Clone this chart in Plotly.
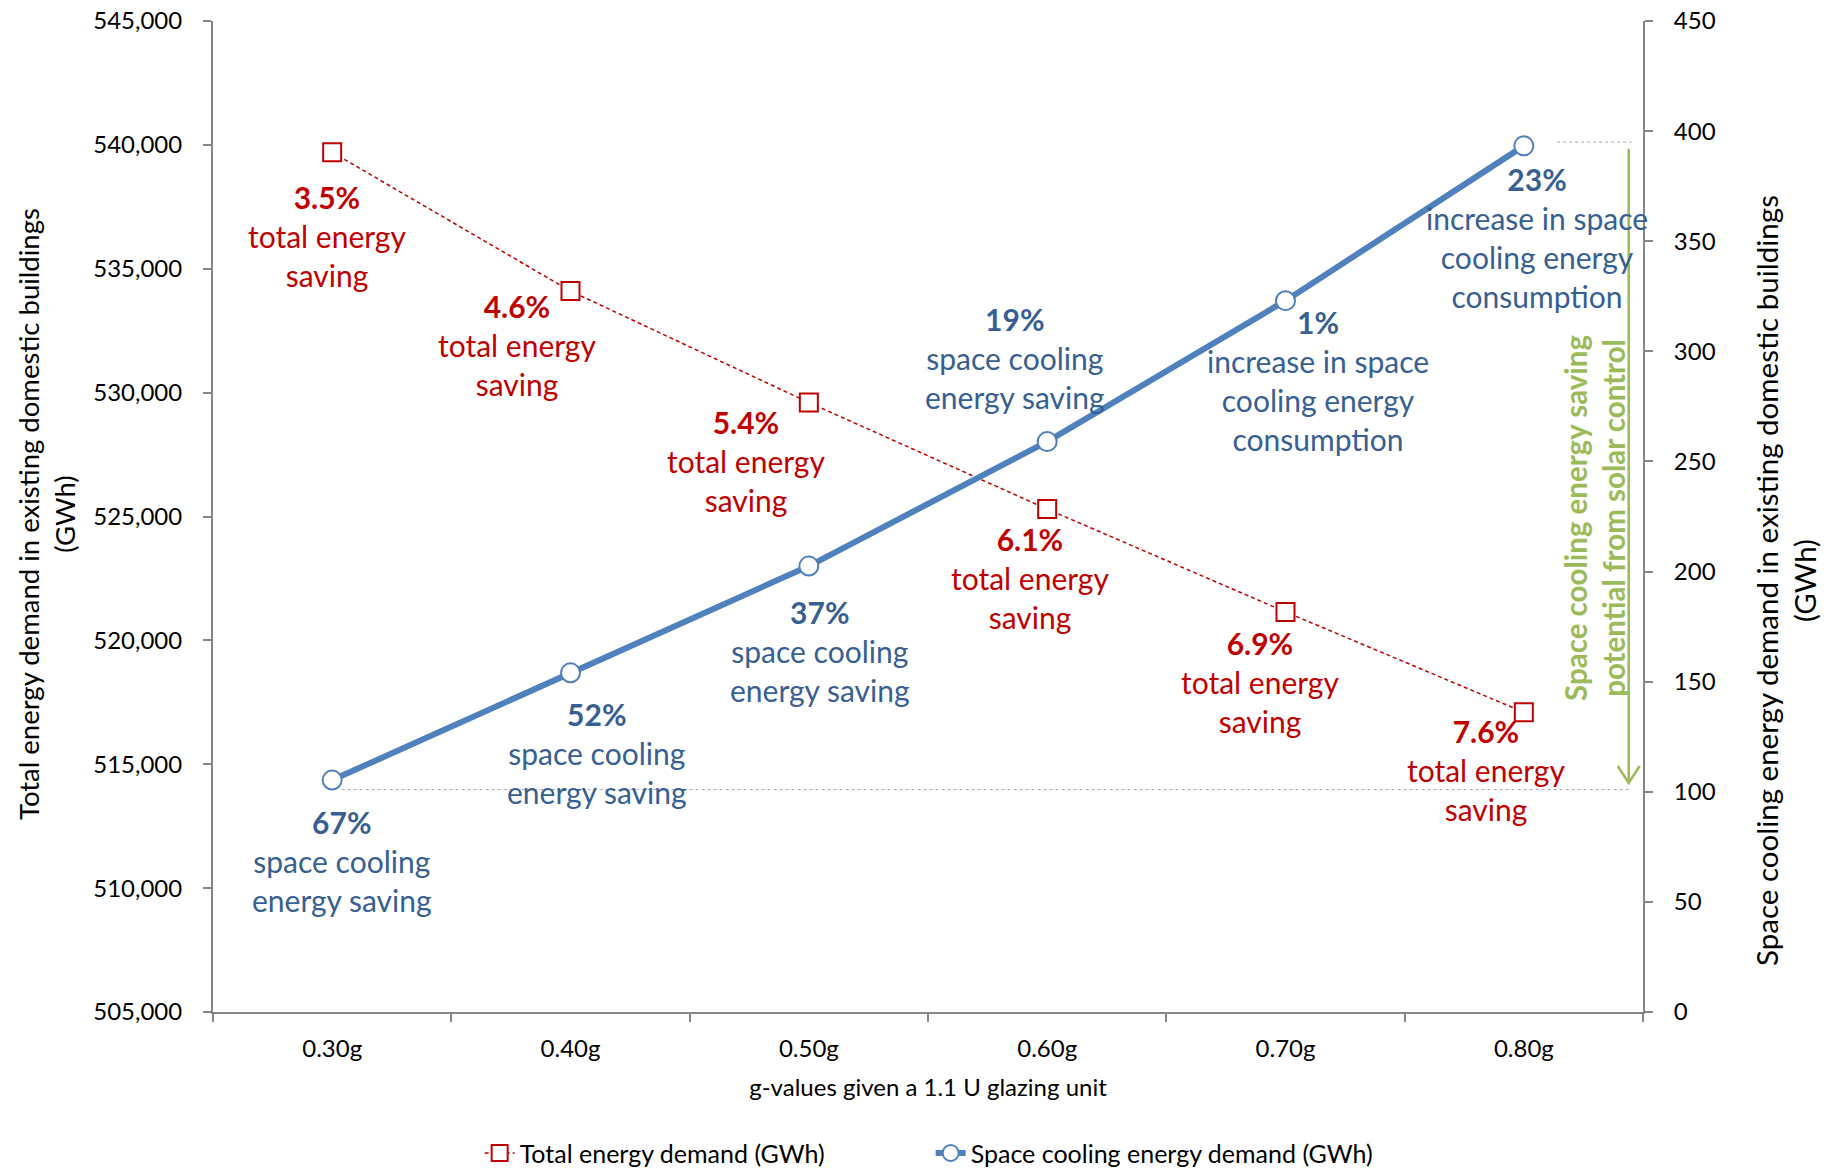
import plotly.graph_objects as go

# g-values of a 1.1 U glazing unit
categories = ["0.30g", "0.40g", "0.50g", "0.60g", "0.70g", "0.80g"]

# Total energy demand in existing domestic buildings (GWh)
total_demand = [539700, 534100, 529600, 525300, 521150, 517100]
total_saving_pct = ["3.5%", "4.6%", "5.4%", "6.1%", "6.9%", "7.6%"]
total_saving_text = ["total energy<br>saving"] * 6

# Space cooling energy demand in existing domestic buildings (GWh)
cooling_demand = [105.3, 154, 202.5, 259, 323, 393.3]
cooling_change_pct = ["67%", "52%", "37%", "19%", "1%", "23%"]
cooling_change_text = [
    "space cooling<br>energy saving",
    "space cooling<br>energy saving",
    "space cooling<br>energy saving",
    "space cooling<br>energy saving",
    "increase in space<br>cooling energy<br>consumption",
    "increase in space<br>cooling energy<br>consumption",
]

# range of the space cooling demand spanned by solar control
cooling_range_low = 101
cooling_range_high = 395

# left-axis and right-axis tick values
total_ticks = [505000, 510000, 515000, 520000, 525000, 530000, 535000, 540000, 545000]
cooling_ticks = [0, 50, 100, 150, 200, 250, 300, 350, 400, 450]

# pixel offsets of the data labels relative to their points
total_label_shift = [(-5, -84), (-54, -54), (-63, -58), (-17, -69), (-26, -70), (-38, -58)]
cooling_label_shift = [(10, -81), (26, -80), (11, -85), (-32, 84), (32, -80), (13, -92)]

FONT = "Lato, 'Open Sans', sans-serif"
RED = "#C00000"
BLUE_LINE = "#4F81BD"
BLUE_TEXT = "#376092"
GREEN = "#9BBB59"
AXIS = "#868686"
GUIDE = "#A6A6A6"

fig = go.Figure()

fig.add_trace(go.Scatter(
    x=categories, y=total_demand, name="Total energy demand (GWh)",
    mode="lines+markers", yaxis="y",
    line=dict(color=RED, width=1.5, dash="4px,3px"),
    marker=dict(symbol="square", size=18, color="white", line=dict(color=RED, width=2)),
))
fig.add_trace(go.Scatter(
    x=categories, y=cooling_demand, name="Space cooling energy demand (GWh)",
    mode="lines+markers", yaxis="y2",
    line=dict(color=BLUE_LINE, width=6),
    marker=dict(symbol="circle", size=19, color="white", line=dict(color=BLUE_LINE, width=2)),
))

annotations = []
for i, cat in enumerate(categories):
    dx, dy = total_label_shift[i]
    annotations.append(dict(
        x=i, y=total_demand[i], xref="x", yref="y", xshift=dx, yshift=dy,
        text=f"<b>{total_saving_pct[i]}</b><br>{total_saving_text[i]}",
        showarrow=False, align="center", xanchor="center", yanchor="middle",
        font=dict(family=FONT, size=30, color=RED),
    ))
    dx, dy = cooling_label_shift[i]
    annotations.append(dict(
        x=i, y=cooling_demand[i], xref="x", yref="y2", xshift=dx, yshift=dy,
        text=f"<b>{cooling_change_pct[i]}</b><br>{cooling_change_text[i]}",
        showarrow=False, align="center", xanchor="center", yanchor="middle",
        font=dict(family=FONT, size=30, color=BLUE_TEXT),
    ))

# axis titles
annotations.append(dict(
    x=-0.1168, y=0.5025, xref="paper", yref="paper", textangle=-90,
    xanchor="center", yanchor="middle",
    text="Total energy demand in existing domestic buildings<br>(GWh)",
    showarrow=False, align="center", font=dict(family=FONT, size=27.5, color="black"),
))
annotations.append(dict(
    x=1.1, y=0.435, xref="paper", yref="paper", textangle=-90,
    xanchor="center", yanchor="middle",
    text="Space cooling energy demand in existing domestic buildings<br>(GWh)",
    showarrow=False, align="center", font=dict(family=FONT, size=29.5, color="black"),
))
# solar control note beside the arrow
annotations.append(dict(
    x=0.9664, y=0.4985, xref="paper", yref="paper", textangle=-90,
    xanchor="center", yanchor="middle",
    text="<b>Space cooling energy saving<br>potential from solar control</b>",
    showarrow=False, align="center", font=dict(family=FONT, size=29.5, color=GREEN),
))

shapes = [
    # guide lines marking the lowest and highest cooling demand
    dict(type="line", xref="paper", yref="y2", x0=0.090, x1=0.991,
         y0=cooling_range_low, y1=cooling_range_low,
         line=dict(color=GUIDE, width=1, dash="dot")),
    dict(type="line", xref="paper", yref="y2", x0=0.940, x1=0.992,
         y0=cooling_range_high, y1=cooling_range_high,
         line=dict(color=GUIDE, width=1, dash="dot")),
    # arrow shaft
    dict(type="line", xref="paper", yref="y2", x0=0.990, x1=0.990,
         y0=cooling_range_high - 3, y1=cooling_range_low + 3,
         line=dict(color=GREEN, width=2.5)),
    # arrow head
    dict(type="path", xref="paper", yref="y2",
         xsizemode="pixel", ysizemode="pixel",
         xanchor=0.990, yanchor=cooling_range_low + 3,
         path="M -11 17 L 0 0 L 11 17",
         line=dict(color=GREEN, width=2.5)),
]

tickfont = dict(family=FONT, size=24, color="black")

fig.update_layout(
    width=1832, height=1172, autosize=False,
    margin=dict(l=213, r=189, t=21, b=160, pad=0, autoexpand=False),
    paper_bgcolor="white", plot_bgcolor="white",
    font=dict(family=FONT, color="black"),
    xaxis=dict(
        type="category", range=[-0.5, 5.5], tickson="boundaries", automargin=False,
        ticks="outside", ticklen=8, tickwidth=1.5, tickcolor=AXIS,
        showline=True, linecolor=AXIS, linewidth=2, showgrid=False,
        tickfont=tickfont, ticklabelstandoff=14,
        title=dict(text="g-values given a 1.1 U glazing unit",
                   font=dict(family=FONT, size=24, color="black"), standoff=18),
    ),
    yaxis=dict(
        range=[505000, 545000], tickvals=total_ticks, tickformat=",", automargin=False,
        ticks="outside", ticklen=8, tickwidth=1.5, tickcolor=AXIS,
        showline=True, linecolor=AXIS, linewidth=2, showgrid=False, zeroline=False,
        tickfont=tickfont, ticklabelstandoff=16,
    ),
    yaxis2=dict(
        range=[0, 450], tickvals=cooling_ticks, overlaying="y", side="right", anchor="x",
        automargin=False,
        ticks="outside", ticklen=8, tickwidth=1.5, tickcolor=AXIS,
        showline=True, linecolor=AXIS, linewidth=2, showgrid=False, zeroline=False,
        tickfont=tickfont, ticklabelstandoff=16,
    ),
    # inner halves of the crossing tick marks
    yaxis3=dict(
        matches="y", overlaying="y", side="left", anchor="x", automargin=False,
        tickvals=total_ticks, ticks="inside", ticklen=8, tickwidth=1.5, tickcolor=AXIS,
        showticklabels=False, showline=False, showgrid=False, zeroline=False,
    ),
    yaxis4=dict(
        matches="y2", overlaying="y", side="right", anchor="x", automargin=False,
        tickvals=cooling_ticks, ticks="inside", ticklen=8, tickwidth=1.5, tickcolor=AXIS,
        showticklabels=False, showline=False, showgrid=False, zeroline=False,
    ),
    legend=dict(
        orientation="h", xref="container", yref="container",
        x=0.508, xanchor="center", y=0.016, yanchor="middle",
        entrywidth=406,
        font=dict(family=FONT, size=25, color="black"), bgcolor="rgba(0,0,0,0)",
    ),
    annotations=annotations,
    shapes=shapes,
)

fig.write_html("out.html")
